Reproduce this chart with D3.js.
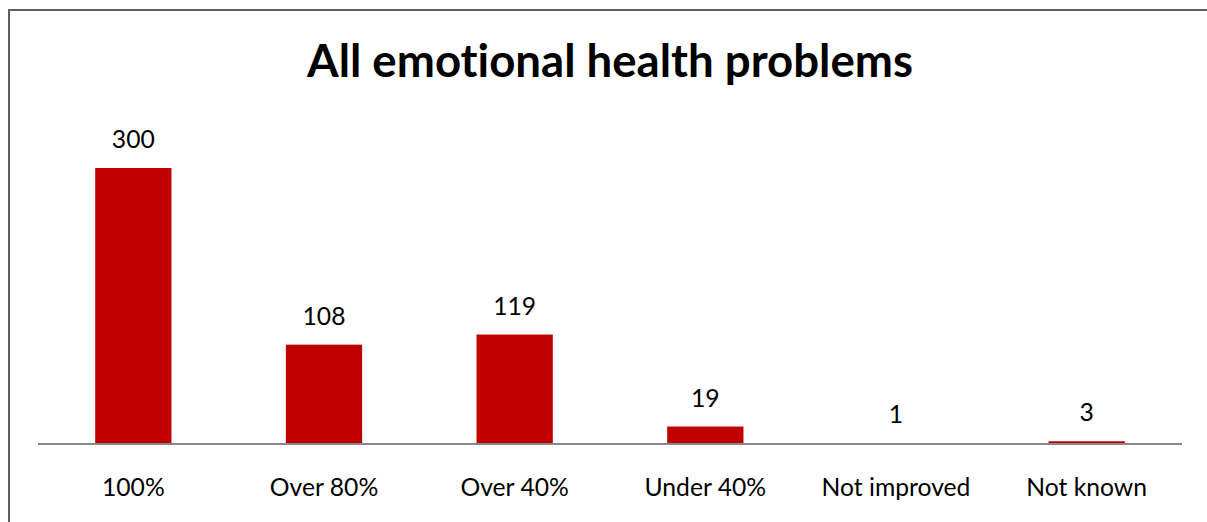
<!DOCTYPE html>
<html>
<head>
<meta charset="utf-8">
<script src="https://cdn.jsdelivr.net/npm/d3@7"></script>
<style>
  html, body { margin: 0; padding: 0; background: #fff; }
  svg { display: block; }
  text { font-family: Lato, "Open Sans", sans-serif; fill: #000; font-variant-ligatures: none; font-feature-settings: "liga" 0, "dlig" 0; }
</style>
</head>
<body>
<svg id="chart" width="1207" height="522"></svg>
<script>
const title = "All emotional health problems";
const categories = ["100%", "Over 80%", "Over 40%", "Under 40%", "Not improved", "Not known"];
const values = [300, 108, 119, 19, 1, 3];

const W = 1207, H = 522;
const svg = d3.select("#chart");

// outer frame: left and top edges
svg.append("path")
  .attr("d", `M9,${H} V10 H${W}`)
  .attr("fill", "none")
  .attr("stroke", "#5f5f5f")
  .attr("stroke-width", 2);

const x = d3.scaleBand()
  .domain(categories)
  .range([38, 1182])
  .paddingInner(0.6)
  .paddingOuter(0.3);

const y = d3.scaleLinear()
  .domain([0, 300])
  .range([444, 168]);

// fit a text element's font size to a target width
function fitWidth(sel, target) {
  const node = sel.node();
  const fs = parseFloat(sel.attr("font-size"));
  const w = node.getComputedTextLength();
  sel.attr("font-size", (fs * target / w).toFixed(2));
}

const t = svg.append("text")
  .attr("x", 610)
  .attr("y", 77)
  .attr("text-anchor", "middle")
  .attr("font-weight", "bold")
  .attr("font-size", 36)
  .text(title);
fitWidth(t, 606);

svg.append("g")
  .selectAll("rect")
  .data(values)
  .join("rect")
  .attr("x", (d, i) => x(categories[i]))
  .attr("width", x.bandwidth())
  .attr("y", d => y(d))
  .attr("height", d => y(0) - y(d))
  .attr("fill", "#c00000");

// baseline
svg.append("line")
  .attr("x1", x.range()[0]).attr("x2", x.range()[1])
  .attr("y1", y(0)).attr("y2", y(0))
  .attr("stroke", "#878787")
  .attr("stroke-width", 2);

// probe label size so "Not improved" spans ~149px
const probe = svg.append("text").attr("font-size", 20).text("Not improved");
const labelSize = 20 * 149 / probe.node().getComputedTextLength();
probe.remove();

svg.append("g")
  .selectAll("text")
  .data(values)
  .join("text")
  .attr("x", (d, i) => x(categories[i]) + x.bandwidth() / 2)
  .attr("y", d => y(d) - 20)
  .attr("text-anchor", "middle")
  .attr("font-size", labelSize)
  .text(d => d);

svg.append("g")
  .selectAll("text")
  .data(categories)
  .join("text")
  .attr("x", d => x(d) + x.bandwidth() / 2)
  .attr("y", 496)
  .attr("text-anchor", "middle")
  .attr("font-size", labelSize)
  .text(d => d);
</script>
</body>
</html>
